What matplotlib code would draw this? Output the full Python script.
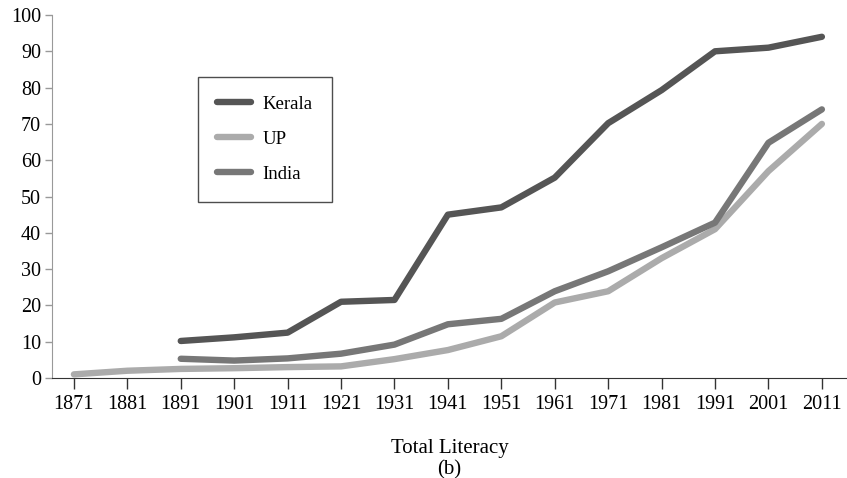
import matplotlib.pyplot as plt

plt.rcParams['font.family'] = ['Liberation Serif', 'DejaVu Serif']

# ─── Data ────────────────────────────────────────────────────────────
years = [1871, 1881, 1891, 1901, 1911, 1921, 1931, 1941, 1951, 1961,
         1971, 1981, 1991, 2001, 2011]

kerala_years = years[2:]
kerala = [10.2, 11.2, 12.5, 21.0, 21.5, 45.0, 47.0, 55.2, 70.2, 79.3,
          90.0, 91.0, 94.0]

up = [1.0, 2.0, 2.5, 2.7, 3.0, 3.2, 5.2, 7.7, 11.5, 20.8, 23.9, 33.0,
      41.0, 57.0, 70.0]

india_years = years[2:]
india = [5.3, 4.8, 5.4, 6.7, 9.2, 14.8, 16.3, 23.9, 29.4, 36.0, 42.8,
         64.8, 74.0]

# ─── Figure ──────────────────────────────────────────────────────────
fig = plt.figure(figsize=(8.47, 4.78), dpi=100)
ax = fig.add_axes([52 / 847, 1 - 378 / 478, 1 - 52 / 847, 363 / 478])

ax.plot(kerala_years, kerala, color='#555555', lw=4.6, solid_capstyle='round',
        label='Kerala')
ax.plot(years, up, color='#ababab', lw=4.6, solid_capstyle='round', label='UP')
ax.plot(india_years, india, color='#777777', lw=4.6, solid_capstyle='round',
        label='India')

ax.set_xlim(1866.9, 2015.7)
ax.set_ylim(0, 100)
ax.set_xticks(years)
ax.set_yticks(range(0, 101, 10))

for s in ['top', 'right']:
    ax.spines[s].set_visible(False)
ax.spines['left'].set_color('#999999')
ax.spines['bottom'].set_color('#333333')
ax.tick_params(axis='y', direction='out', length=5, width=1, color='#999999',
               labelsize=14.5, pad=3)
ax.tick_params(axis='x', direction='out', length=8, width=1, color='#333333',
               labelsize=14.5, pad=4)

ax.set_xlabel('Total Literacy\n(b)', fontsize=15, labelpad=18, linespacing=1.15)

leg = ax.legend(loc='upper left', bbox_to_anchor=((198 - 52) / 795, 1 - 62 / 363),
                frameon=True, fancybox=False, edgecolor='#222222',
                fontsize=13.5, handlelength=1.8, handletextpad=0.65,
                labelspacing=0.95, borderpad=1.0, borderaxespad=0)
leg.get_frame().set_linewidth(1.0)

fig.savefig('out.png', dpi=100)
